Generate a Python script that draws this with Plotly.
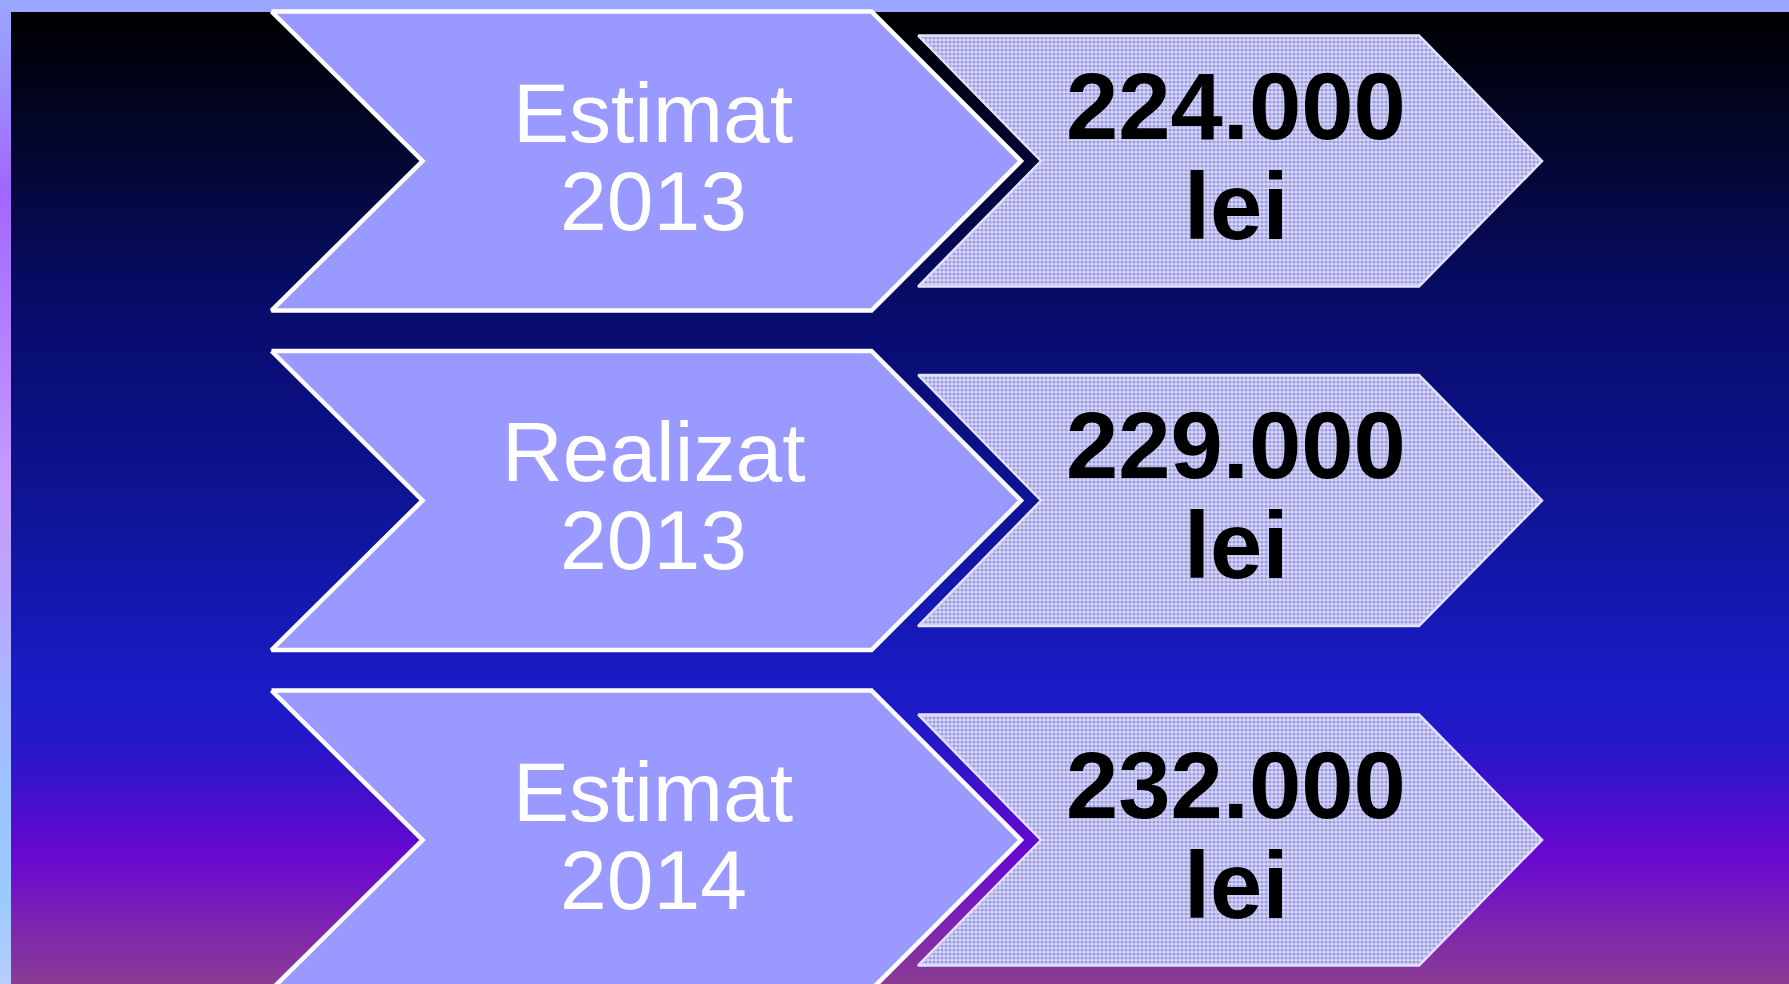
import numpy as np
import plotly.graph_objects as go

# ---- data ----
stages = ["Estimat", "Realizat", "Estimat"]
years = ["2013", "2013", "2014"]
values = [224000, 229000, 232000]
unit = "lei"

W, H = 1789, 984

# ---- background gradient stops (y px -> colour) ----
bg_stops = [(12, "#000000"), (100, "#02041e"), (200, "#050842"), (300, "#080c68"),
            (400, "#0a0f7e"), (500, "#0e1494"), (600, "#1418b0"), (690, "#1a1cc6"),
            (740, "#2418c8"), (780, "#3a12cc"), (850, "#6608d0"), (880, "#7010c8"),
            (920, "#7c22b2"), (984, "#8a3c94")]
strip_stops = [(0, "#9aa6ff"), (90, "#9c8cff"), (190, "#a266ff"), (330, "#b280ff"),
               (480, "#c89aff"), (600, "#b8a8ff"), (700, "#a8b8ff"), (800, "#9cc4ff"),
               (900, "#9ccaff"), (984, "#b8ccff")]


def grad_trace(stops, x0, x1, y0, y1):
    edges = np.arange(y0, y1 + 1, 2.0)
    mids = (edges[:-1] + edges[1:]) / 2
    lo, hi = stops[0][0], stops[-1][0]
    cs = [[(p - lo) / (hi - lo), c] for p, c in stops]
    return go.Heatmap(x=[x0, x1], y=edges, z=mids.reshape(-1, 1), colorscale=cs,
                      zmin=lo, zmax=hi, showscale=False, hoverinfo="skip")


fig = go.Figure()
fig.add_trace(grad_trace(bg_stops, 11, W, 12, H))
fig.add_trace(grad_trace(strip_stops, 0, 11, 0, H))

# ---- chevron layout ----
row0, row_gap = 161, 339.5
L_x0, L_sh, L_half, L_d = 271.5, 871.5, 149.5, 151
R_x0, R_sh, R_half, R_d = 918, 1419, 125.5, 123
L_txt_x, R_txt_x = 653, 1236

for i, (stg, yr, v) in enumerate(zip(stages, years, values)):
    m = row0 + i * row_gap
    # left chevron
    lx = [L_x0, L_sh, L_sh + L_half, L_sh, L_x0, L_x0 + L_d, L_x0]
    ly = [m - L_half, m - L_half, m, m + L_half, m + L_half, m, m - L_half]
    fig.add_trace(go.Scatter(x=lx, y=ly, mode="lines", fill="toself",
                             fillcolor="#9999ff", line=dict(color="white", width=4.5),
                             hoverinfo="skip", showlegend=False))
    # right chevron
    rx = [R_x0, R_sh, R_sh + R_d, R_sh, R_x0, R_x0 + R_d, R_x0]
    ry = [m - R_half, m - R_half, m, m + R_half, m + R_half, m, m - R_half]
    fig.add_trace(go.Scatter(x=rx, y=ry, mode="lines", fill="toself",
                             fillcolor="#d2d2f8",
                             fillpattern=dict(shape=".", bgcolor="#d8d8ff", fgcolor="#9c9cd8",
                                              size=4, solidity=0.5, fillmode="replace"),
                             line=dict(color="#e2e2ff", width=2.5),
                             hoverinfo="skip", showlegend=False))
    # texts
    fig.add_annotation(x=L_txt_x, y=m - 48.5, text=stg, showarrow=False,
                       font=dict(family="Liberation Sans, Arial", size=84, color="white"),
                       xanchor="center", yanchor="middle")
    fig.add_annotation(x=L_txt_x, y=m + 39.5, text=yr, showarrow=False,
                       font=dict(family="Liberation Sans, Arial", size=84, color="white"),
                       xanchor="center", yanchor="middle")
    fig.add_annotation(x=R_txt_x, y=m - 55, text=f"{v:,}".replace(",", "."), showarrow=False,
                       font=dict(family="Liberation Sans, Arial", size=94, color="black",
                                 weight="bold"),
                       xanchor="center", yanchor="middle")
    fig.add_annotation(x=R_txt_x, y=m + 45, text=unit, showarrow=False,
                       font=dict(family="Liberation Sans, Arial", size=94, color="black",
                                 weight="bold"),
                       xanchor="center", yanchor="middle")

fig.update_layout(
    width=W, height=H, margin=dict(l=0, r=0, t=0, b=0),
    paper_bgcolor="#9aa6ff", plot_bgcolor="#9aa6ff", showlegend=False,
    xaxis=dict(range=[0, W], visible=False, fixedrange=True),
    yaxis=dict(range=[H, 0], visible=False, fixedrange=True),
)

fig.write_html("out.html", config={"displayModeBar": False, "staticPlot": True},
               post_script="document.body.style.margin='0';document.body.style.overflow='hidden';")
